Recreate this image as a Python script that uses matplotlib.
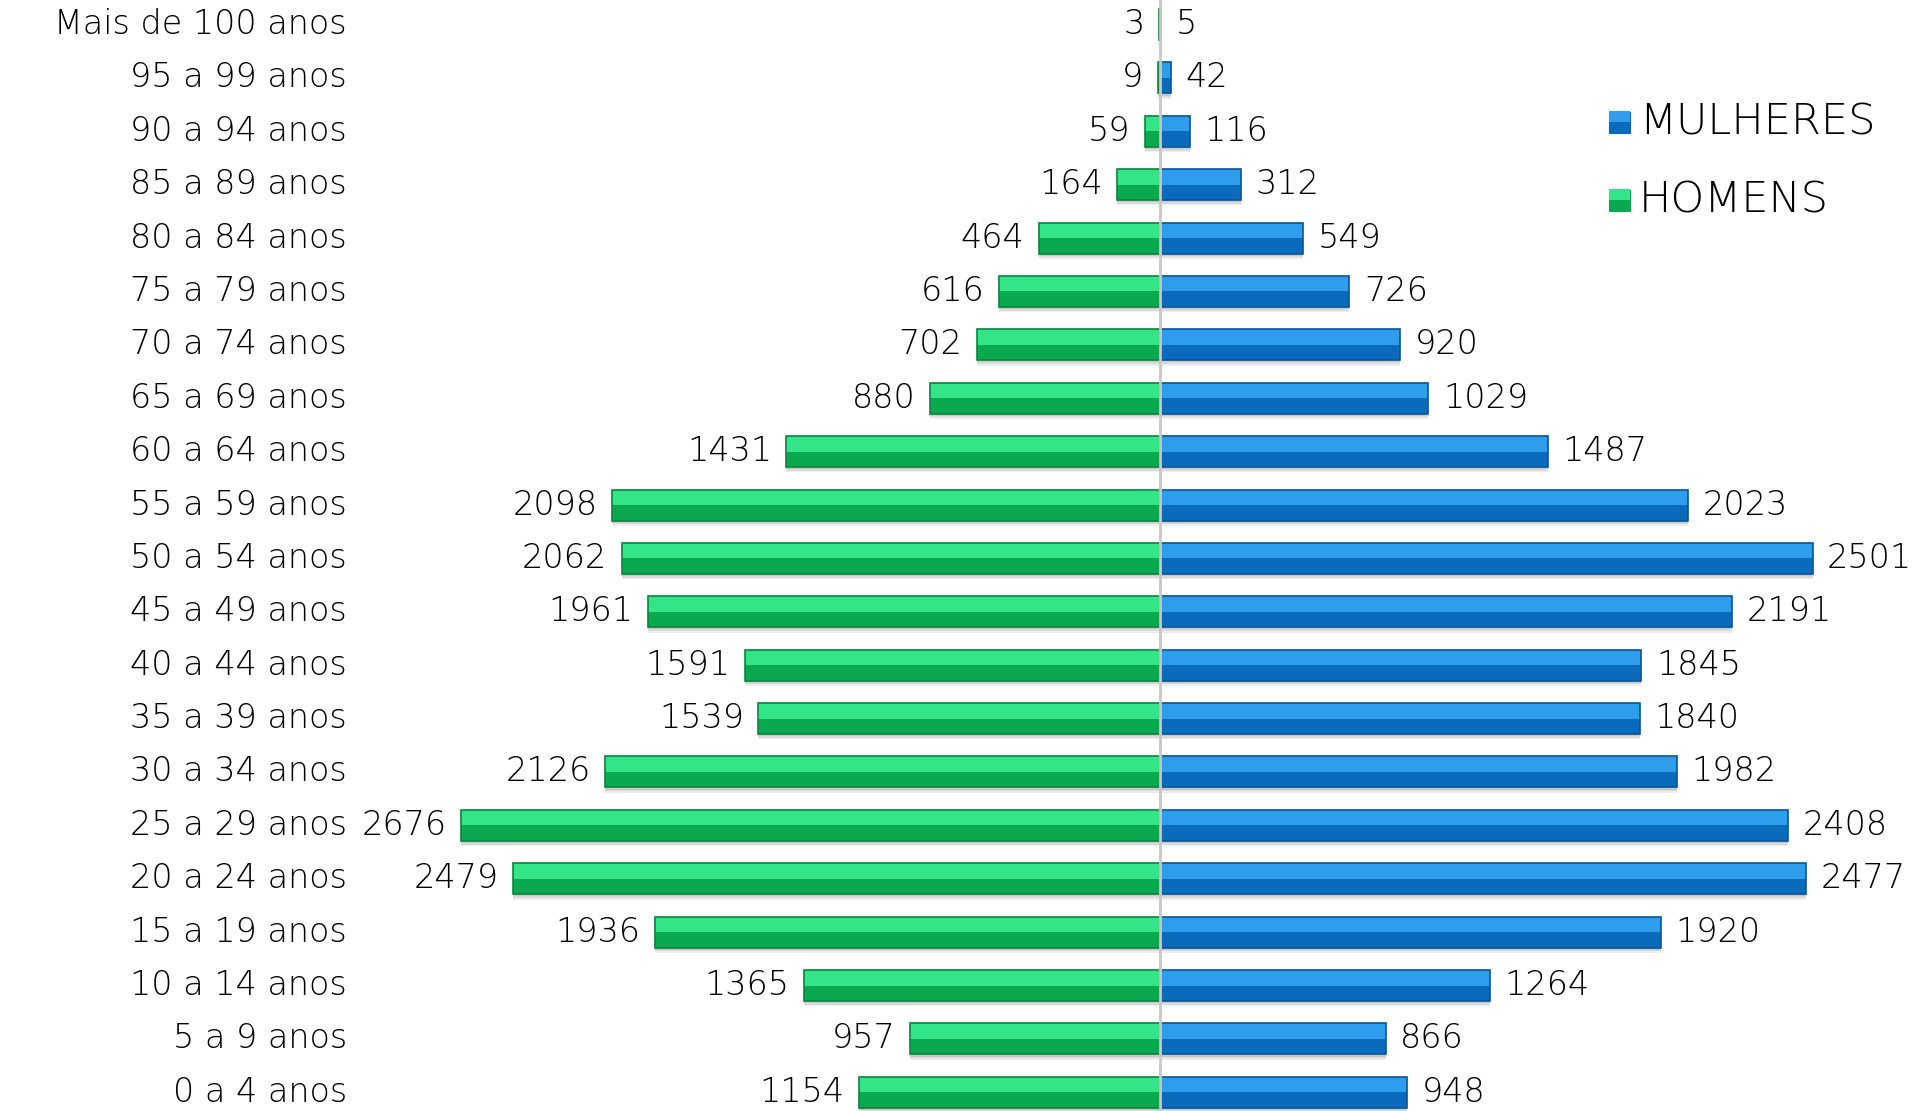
import matplotlib
matplotlib.use("Agg")
import matplotlib.pyplot as plt
from matplotlib.patches import Rectangle
import numpy as np

categorias = ["Mais de 100 anos", "95 a 99 anos", "90 a 94 anos", "85 a 89 anos",
              "80 a 84 anos", "75 a 79 anos", "70 a 74 anos", "65 a 69 anos",
              "60 a 64 anos", "55 a 59 anos", "50 a 54 anos", "45 a 49 anos",
              "40 a 44 anos", "35 a 39 anos", "30 a 34 anos", "25 a 29 anos",
              "20 a 24 anos", "15 a 19 anos", "10 a 14 anos", "5 a 9 anos", "0 a 4 anos"]
homens = [3, 9, 59, 164, 464, 616, 702, 880, 1431, 2098, 2062, 1961, 1591, 1539,
          2126, 2676, 2479, 1936, 1365, 957, 1154]
mulheres = [5, 42, 116, 312, 549, 726, 920, 1029, 1487, 2023, 2501, 2191, 1845, 1840,
            1982, 2408, 2477, 1920, 1264, 866, 948]

FONT = ["DejaVu Sans"]
plt.rcParams['font.family'] = FONT

W, H = 1921, 1111
fig = plt.figure(figsize=(W / 100, H / 100), dpi=100)
ax = fig.add_axes([0, 0, 1, 1])
ax.set_xlim(-4444, 2916)
ax.set_ylim(20.35, -0.459)
ax.axis("off")

y = np.arange(len(categorias))
h = np.array(homens)
m = np.array(mulheres)
bh = 0.58

green_light, green_dark, green_edge = "#33e588", "#0aa84f", "#08863f"
blue_light, blue_dark, blue_edge = "#2e9dec", "#0a6bbd", "#08559a"

# shadows
for k, a in [(0.10, 0.10), (0.07, 0.12), (0.04, 0.14)]:
    ax.barh(y + k, -h, height=bh, left=0, color="#555555", alpha=a, lw=0, zorder=1)
    ax.barh(y + k, m, height=bh, left=0, color="#555555", alpha=a, lw=0, zorder=1)

# bevelled bars: top light half, bottom dark half
ax.barh(y - bh / 4, -h, height=bh / 2, color=green_light, lw=0, zorder=2)
ax.barh(y + bh / 4, -h, height=bh / 2, color=green_dark, lw=0, zorder=2)
ax.barh(y, -h, height=bh, fill=False, edgecolor=green_edge, lw=1.2, zorder=3)
ax.barh(y - bh / 4, m, height=bh / 2, color=blue_light, lw=0, zorder=2)
ax.barh(y + bh / 4, m, height=bh / 2, color=blue_dark, lw=0, zorder=2)
ax.barh(y, m, height=bh, fill=False, edgecolor=blue_edge, lw=1.2, zorder=3)

# center line
ax.axvline(0, color="#c8c8c8", lw=2, zorder=4)

fs = 24
wt = "light"
tc = "#000000"
for yi, cat, hv, mv in zip(y, categorias, homens, mulheres):
    ax.text(-3115, yi, cat, ha="right", va="center", fontsize=fs, color=tc,
            fontweight=wt)
    ax.text(-hv - 55, yi, str(hv), ha="right", va="center", fontsize=fs, color=tc,
            fontweight=wt)
    ax.text(mv + 55, yi, str(mv), ha="left", va="center", fontsize=fs, color=tc,
            fontweight=wt)

# legend
for label, yy, c1, c2 in [("MULHERES", 122, blue_light, blue_dark),
                          ("HOMENS", 200, green_light, green_dark)]:
    sq = 21
    x0 = 1609
    fig.patches.append(Rectangle((x0 / W, 1 - (yy + sq / 2) / H), sq / W, sq / H,
                                 transform=fig.transFigure, facecolor=c2, edgecolor=c2, lw=0.8))
    fig.patches.append(Rectangle((x0 / W, 1 - yy / H), sq / W, (sq / 2) / H,
                                 transform=fig.transFigure, facecolor=c1, lw=0))
    fig.text(1639 / W, 1 - yy / H, label, ha="left", va="center", fontsize=31, color=tc,
             fontweight=wt)

fig.savefig("out.png", dpi=100, facecolor="white")
